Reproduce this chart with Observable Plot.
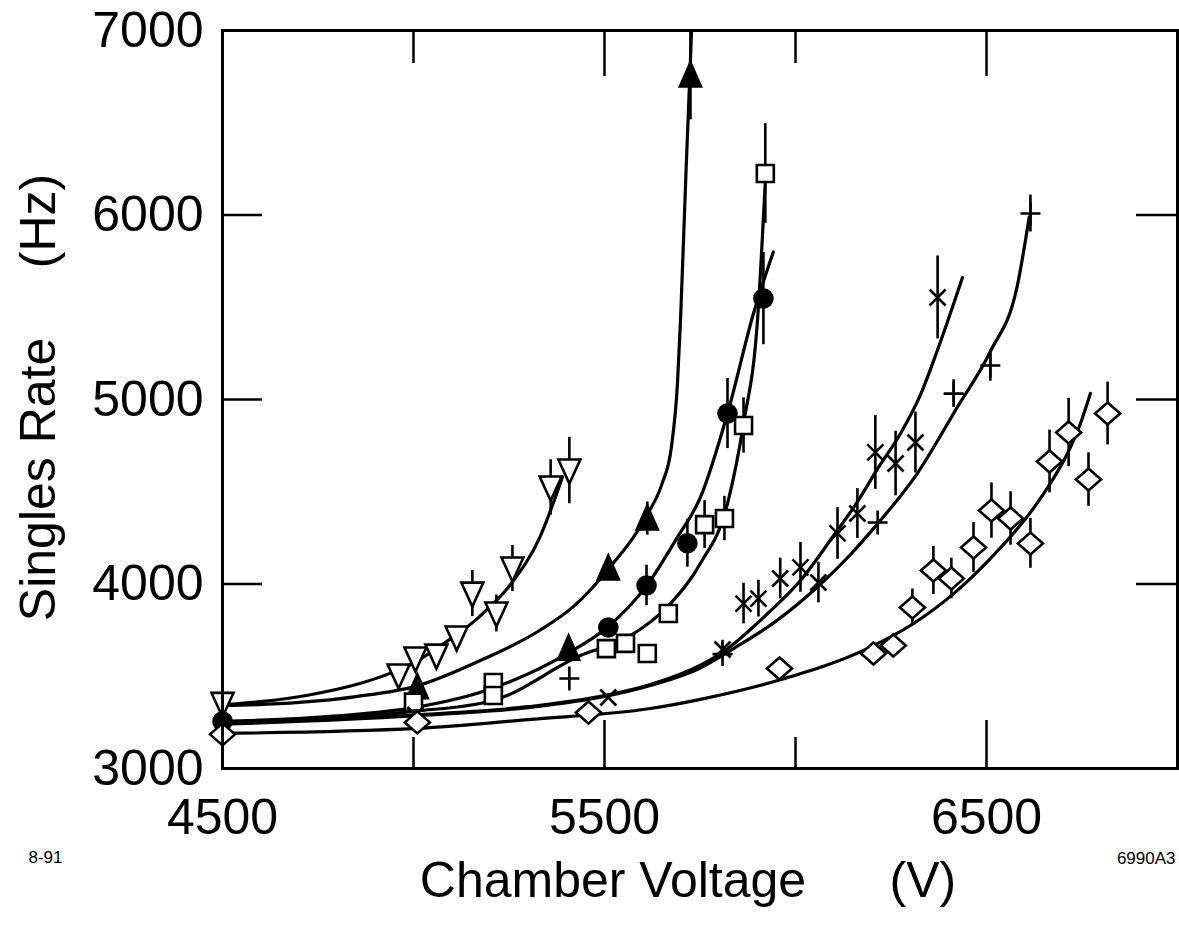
<!DOCTYPE html>
<html>
<head>
<meta charset="utf-8">
<script src="https://cdn.jsdelivr.net/npm/d3@7"></script>
<script src="https://cdn.jsdelivr.net/npm/@observablehq/plot@0.6"></script>
<style>
  html, body { margin: 0; padding: 0; background: #fff; overflow: hidden; }
  #chart svg { display: block; }
</style>
</head>
<body>
<div id="chart"></div>
<script>
// ---------- tick labels ----------
const xTickLabels = [4500, 5500, 6500];
const xMajorTicks = [5500, 6500];
const xMinorTicks = [5000, 6000];
const yTickLabels = [3000, 4000, 5000, 6000, 7000];
const yTicks = [4000, 5000, 6000];

// ---------- measured points (V, Hz, error half-length Hz) ----------
const triDownV   = [4500, 4961, 5005, 5060, 5113, 5154, 5217, 5259, 5359, 5408];
const triDownHz  = [3350, 3504, 3596, 3612, 3710, 3948, 3840, 4084, 4523, 4615];
const triDownErr = [0, 0, 0, 0, 0, 125, 100, 125, 150, 180];

const triUpV   = [5010, 5406, 5510, 5612, 5725];
const triUpHz  = [3440, 3650, 4084, 4355, 6756];
const triUpErr = [0, 0, 0, 90, 240];

const circV   = [4500, 5510, 5610, 5717, 5822, 5916];
const circHz  = [3255, 3764, 3992, 4221, 4924, 5547];
const circErr = [0, 0, 110, 130, 190, 250];

const sqV   = [5000, 5209, 5209, 5505, 5555, 5612, 5667, 5762, 5814, 5864, 5921];
const sqHz  = [3360, 3466, 3396, 3650, 3678, 3623, 3840, 4322, 4355, 4859, 6225];
const sqErr = [0, 0, 0, 0, 0, 0, 0, 130, 120, 150, 270];

const timesV   = [4500, 5005, 5510, 5809, 5864, 5903, 5960, 6013, 6060, 6110, 6162, 6209, 6262, 6314, 6372];
const timesHz  = [3245, 3290, 3385, 3645, 3894, 3921, 4030, 4090, 4008, 4274, 4382, 4713, 4653, 4767, 5553];
const timesErr = [0, 0, 0, 50, 110, 100, 110, 135, 110, 140, 135, 200, 175, 165, 225];

const plusV   = [5408, 5809, 6215, 6414, 6510, 6615];
const plusHz  = [3488, 3620, 4333, 5032, 5184, 6008];
const plusErr = [0, 0, 0, 75, 85, 100];

const diaV   = [4500, 5010, 5458, 5958, 6204, 6256, 6306, 6361, 6408, 6466, 6513, 6563, 6615, 6665, 6715, 6767, 6817];
const diaHz  = [3185, 3250, 3304, 3542, 3623, 3667, 3873, 4073, 4030, 4198, 4398, 4355, 4220, 4664, 4821, 4566, 4924];
const diaErr = [0, 0, 0, 0, 0, 0, 100, 130, 110, 135, 150, 145, 135, 170, 185, 145, 170];

// ---------- fitted curves ----------
const fitTriDownV  = [4500, 4600, 4730, 4850, 4950, 5000, 5080, 5170, 5255, 5330, 5390];
const fitTriDownHz = [3345, 3362, 3400, 3455, 3525, 3572, 3678, 3818, 4000, 4250, 4580];

const fitTriUpV  = [4500, 4700, 4850, 5010, 5175, 5330, 5420, 5510, 5613, 5650, 5675, 5691, 5699, 5713, 5728];
const fitTriUpHz = [3340, 3358, 3390, 3448, 3585, 3748, 3880, 4080, 4380, 4540, 4740, 5087, 5430, 6214, 7000];

const fitCircV  = [4500, 4800, 5000, 5200, 5400, 5510, 5610, 5690, 5751, 5822, 5890, 5942];
const fitCircHz = [3255, 3285, 3330, 3430, 3620, 3770, 3990, 4250, 4469, 4924, 5466, 5800];

const fitSqV  = [4500, 5000, 5209, 5437, 5560, 5673, 5751, 5822, 5864, 5901, 5921];
const fitSqHz = [3250, 3310, 3369, 3612, 3710, 3894, 4111, 4436, 4870, 5444, 6187];

const fitTimesV  = [4500, 5000, 5300, 5500, 5620, 5751, 5809, 5927, 6013, 6099, 6162, 6215, 6275, 6327, 6372, 6437];
const fitTimesHz = [3245, 3290, 3335, 3395, 3455, 3560, 3630, 3840, 4019, 4260, 4445, 4625, 4816, 5025, 5270, 5661];

const fitPlusV  = [4500, 5000, 5300, 5500, 5620, 5751, 5838, 5950, 6058, 6144, 6204, 6319, 6424, 6510, 6581, 6612];
const fitPlusHz = [3240, 3285, 3330, 3390, 3450, 3545, 3650, 3800, 3985, 4160, 4300, 4600, 4960, 5260, 5620, 5990];

const fitDiaV  = [4500, 5010, 5300, 5620, 5751, 5958, 6188, 6309, 6414, 6510, 6615, 6667, 6712, 6746, 6772];
const fitDiaHz = [3190, 3217, 3265, 3325, 3375, 3480, 3650, 3786, 3948, 4138, 4388, 4545, 4707, 4870, 5033];

// ---------- texts ----------
const xLabel = "Chamber Voltage\u00a0\u00a0\u00a0\u00a0\u00a0\u00a0(V)";
const yLabel = "Singles Rate\u00a0\u00a0\u00a0\u00a0\u00a0(Hz)";
const noteLeft = "8-91";
const noteRight = "6990A3";

// ---------- helpers ----------
const pts = (V, H, E) => V.map((v, i) => ({v, hz: H[i], err: E ? E[i] : 0}));
const shape = (p, closed = true) => ({
  draw(ctx) {
    ctx.moveTo(p[0][0], p[0][1]);
    for (let i = 1; i < p.length; ++i) ctx.lineTo(p[i][0], p[i][1]);
    if (closed) ctx.closePath();
  }
});
const symTriDown = shape([[-11, -11], [11, -11], [0, 13]]);
const symTriUp = shape([[0, -13], [10.5, 11], [-10.5, 11]]);
const symSquare = shape([[-8.5, -8.5], [8.5, -8.5], [8.5, 8.5], [-8.5, 8.5]]);
const symDiamond = shape([[0, -11], [12.5, 0], [0, 11], [-12.5, 0]]);
const symTimes = {draw(ctx) { ctx.moveTo(-8, -8); ctx.lineTo(8, 8); ctx.moveTo(8, -8); ctx.lineTo(-8, 8); }};
const symPlus = {draw(ctx) { ctx.moveTo(-10, 0); ctx.lineTo(10, 0); ctx.moveTo(0, -12); ctx.lineTo(0, 12); }};

const series = [
  {data: pts(triDownV, triDownHz, triDownErr), symbol: symTriDown, fill: "white"},
  {data: pts(triUpV, triUpHz, triUpErr), symbol: symTriUp, fill: "black"},
  {data: pts(sqV, sqHz, sqErr), symbol: symSquare, fill: "white"},
  {data: pts(circV, circHz, circErr), symbol: "circle", fill: "black", r: 9},
  {data: pts(timesV, timesHz, timesErr), symbol: symTimes, fill: "none"},
  {data: pts(plusV, plusHz, plusErr), symbol: symPlus, fill: "none"},
  {data: pts(diaV, diaHz, diaErr), symbol: symDiamond, fill: "white"}
];
const fits = [
  pts(fitTriDownV, fitTriDownHz), pts(fitTriUpV, fitTriUpHz), pts(fitCircV, fitCircHz),
  pts(fitSqV, fitSqHz), pts(fitTimesV, fitTimesHz), pts(fitPlusV, fitPlusHz), pts(fitDiaV, fitDiaHz)
];

const FONT = "'Liberation Sans', Arial, Helvetica, sans-serif";
const W = 1179, H = 939, ML = 222, MR = 2, MT = 30, MB = 171;
const FW = W - ML - MR, FH = H - MT - MB;

const chart = Plot.plot({
  width: W, height: H,
  marginLeft: ML, marginRight: MR, marginTop: MT, marginBottom: MB,
  style: {fontFamily: FONT, background: "white", color: "black", overflow: "visible"},
  x: {domain: [4500, 7000]},
  y: {domain: [3000, 7000]},
  marks: [
    // fitted curves
    ...fits.map(d => Plot.line(d, {x: "v", y: "hz", curve: "monotone-x", stroke: "black", strokeWidth: 3.2})),
    // error bars
    ...series.map(s => Plot.ruleX(s.data.filter(d => d.err > 0), {x: "v", y1: d => d.hz - d.err, y2: d => d.hz + d.err, stroke: "black", strokeWidth: 2.6})),
    // markers
    ...series.map(s => Plot.dot(s.data, {x: "v", y: "hz", symbol: s.symbol, r: s.r ?? 5, fill: s.fill, stroke: "black", strokeWidth: 2.6})),
    // inward ticks
    Plot.tickX(xMajorTicks, {x: d => d, insetTop: FH - 48, strokeWidth: 2.5}),
    Plot.tickX(xMinorTicks, {x: d => d, insetTop: FH - 31, strokeWidth: 2.5}),
    Plot.tickX(xMajorTicks, {x: d => d, insetBottom: FH - 46, strokeWidth: 2.5}),
    Plot.tickX(xMinorTicks, {x: d => d, insetBottom: FH - 33, strokeWidth: 2.5}),
    Plot.tickY(yTicks, {y: d => d, insetRight: FW - 40, strokeWidth: 2.5}),
    Plot.tickY(yTicks, {y: d => d, insetLeft: FW - 41, strokeWidth: 2.5}),
    Plot.frame({stroke: "black", strokeWidth: 3}),
    // tick labels
    Plot.axisX({ticks: xTickLabels, tickSize: 0, tickPadding: 30, fontSize: 50, label: null, tickFormat: d => String(d)}),
    Plot.axisY({ticks: yTickLabels, tickSize: 0, tickPadding: 19, fontSize: 50, label: null, tickFormat: d => String(d)}),
    // axis titles
    Plot.text([xLabel], {frameAnchor: "bottom", dx: -12, dy: 112, fontSize: 50, textAnchor: "middle", lineAnchor: "middle"}),
    Plot.text([yLabel], {frameAnchor: "left", rotate: -90, dx: -184, dy: -2, fontSize: 50, textAnchor: "middle", lineAnchor: "middle"}),
    // corner notes
    Plot.text([noteLeft], {frameAnchor: "bottom-left", dx: -194, dy: 89, fontSize: 17, textAnchor: "start", lineAnchor: "middle"}),
    Plot.text([noteRight], {frameAnchor: "bottom-right", dx: -2, dy: 90, fontSize: 17, textAnchor: "end", lineAnchor: "middle"})
  ]
});
document.getElementById("chart").appendChild(chart);
</script>
</body>
</html>
